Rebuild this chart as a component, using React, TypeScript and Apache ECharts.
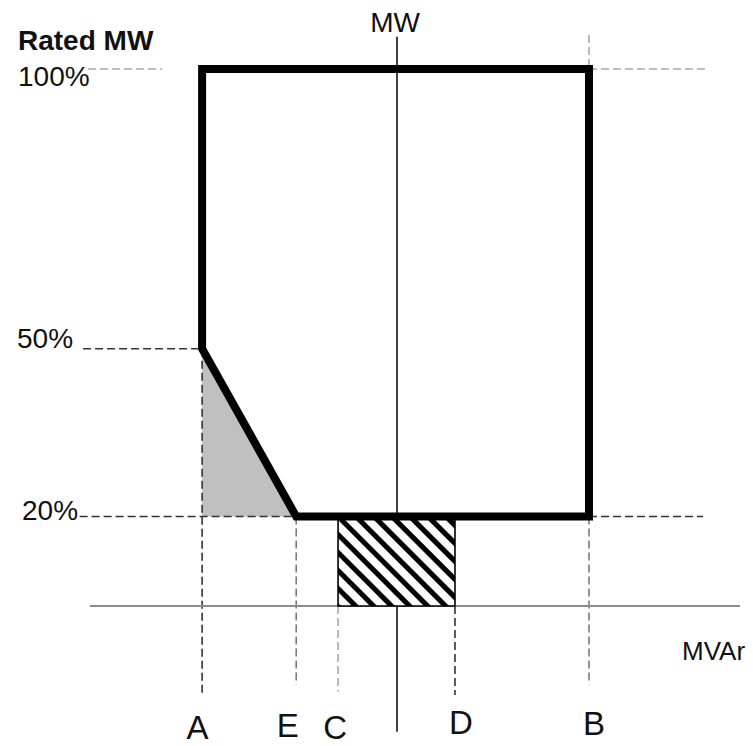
import React, { useEffect, useRef } from "react";
import * as echarts from "echarts";

const W = 753;
const H = 746;
const FONT = "'Liberation Sans', Arial, sans-serif";

// ---- data (schematic MVAr positions, MW axis = 0; MW in % of rated) ----
const pointLabels = ["A", "E", "C", "D", "B"];
const pointMvar = [-101.5, -52.5, -30.7, 30.2, 100];
const [A, E, C, D, B] = pointMvar;

const yTickLabels = ["100%", "50%", "20%"];
const yTickValues = [100, 50, 20];
const mvarAxisLevel = 4;

const capabilityOutline = [
  [A, 100],
  [B, 100],
  [B, 20],
  [E, 20],
  [A, 50],
];
const shadedRegion = [
  [A, 50],
  [A, 20],
  [E, 20],
];
const hatchedRegion = [
  [C, 20],
  [D, mvarAxisLevel],
];

// guide segments [x1, y1, x2, y2]
const darkGuides = [
  [-163.5, 50, A, 50],
  [-165.3, 20, E, 20],
  [B, 20, 159.4, 20],
  [A, 50, A, -11.7],
  [D, mvarAxisLevel, D, -11.9],
];
const midGuides = [
  [E, 20, E, -10.1],
  [B, 20, B, -10.1],
];
const lightGuides = [
  [-160.9, 100, -122.4, 100],
  [B, 100, 160.4, 100],
  [B, 106.1, B, 100],
  [C, mvarAxisLevel, C, -11.3],
];
const mwAxisLine = [[0, 105.75, 0, -18.5]];
const mvarAxisLine = [[-159.9, mvarAxisLevel, 178.6, mvarAxisLevel]];

// ---- layout ----
const X_MIN = -200;
const X_MAX = 185;
const PX_X = 1.92;
const ORIGIN_X = 397;
const Y_MIN = -20;
const Y_MAX = 110;
const PX_Y = 5.59375;
const Y100_PX = 69;
const gridLeft = ORIGIN_X + X_MIN * PX_X;
const gridWidth = (X_MAX - X_MIN) * PX_X;
const gridTop = Y100_PX - (Y_MAX - 100) * PX_Y;
const gridHeight = (Y_MAX - Y_MIN) * PX_Y;

const LETTER_Y = -17.8;
const LETTER_FONT = 33;
const LETTER_NUDGE = [
  [-4.5, -0.5],
  [-8.5, -2],
  [-3, -0.5],
  [6, -5],
  [5, -4],
];
const YLABEL_NUDGE = [
  [5, 7],
  [4, -10.5],
  [9, -6.5],
];

function clipPoly(poly: number[][], f: (p: number[]) => number) {
  const out: number[][] = [];
  const n = poly.length;
  for (let i = 0; i < n; i++) {
    const a = poly[i];
    const b = poly[(i + 1) % n];
    const fa = f(a);
    const fb = f(b);
    if (fa >= 0) out.push(a);
    if (fa >= 0 !== fb >= 0) {
      const t = fa / (fa - fb);
      out.push([a[0] + t * (b[0] - a[0]), a[1] + t * (b[1] - a[1])]);
    }
  }
  return out;
}

function guideSeries(segs: number[][], color: string, width: number, dash: number[] | null, z: number) {
  return {
    type: "custom",
    silent: true,
    z,
    data: segs,
    renderItem: (params: any, api: any) => {
      const p1 = api.coord([api.value(0), api.value(1)]);
      const p2 = api.coord([api.value(2), api.value(3)]);
      return {
        type: "line",
        shape: { x1: p1[0], y1: p1[1], x2: p2[0], y2: p2[1] },
        style: { stroke: color, lineWidth: width, lineDash: dash || undefined, fill: null },
      };
    },
  };
}

export default function App() {
  const ref = useRef<HTMLDivElement>(null);
  useEffect(() => {
    const chart = echarts.init(ref.current!, null, { renderer: "svg" });
    const option: any = {
      animation: false,
      backgroundColor: "#fff",
      grid: { left: gridLeft, top: gridTop, width: gridWidth, height: gridHeight },
      xAxis: { type: "value", min: X_MIN, max: X_MAX, show: false },
      yAxis: { type: "value", min: Y_MIN, max: Y_MAX, show: false },
      series: [
        {
          type: "custom",
          silent: true,
          z: 1,
          data: [[0, 0]],
          renderItem: (params: any, api: any) => ({
            type: "polygon",
            shape: { points: shadedRegion.map((p) => api.coord(p)) },
            style: { fill: "#c0c0c0", stroke: null },
          }),
        },
        guideSeries(lightGuides, "#a8a8a8", 1.6, [8, 4], 2),
        guideSeries(midGuides, "#7a7a7a", 1.6, [8, 4], 2),
        guideSeries(darkGuides, "#333333", 1.6, [8, 4], 2),
        guideSeries(mvarAxisLine, "#8c8c8c", 2, null, 3),
        guideSeries(mwAxisLine, "#111111", 1.6, null, 3),
        {
          type: "custom",
          silent: true,
          z: 4,
          data: [[0, 0]],
          renderItem: (params: any, api: any) => {
            const p0 = api.coord(hatchedRegion[0]);
            const p1 = api.coord(hatchedRegion[1]);
            const x0 = p0[0], y0 = p0[1], x1 = p1[0], y1 = p1[1];
            const rect = [
              [x0, y0],
              [x1, y0],
              [x1, y1],
              [x0, y1],
            ];
            const period = 18;
            const half = 3.6;
            const kMin = x0 - y1;
            const kMax = x1 - y0;
            const k0 = x0 - y0;
            const children: any[] = [
              { type: "rect", shape: { x: x0, y: y0, width: x1 - x0, height: y1 - y0 }, style: { fill: "#fff" } },
            ];
            let k = k0 - Math.ceil((k0 - kMin + half) / period) * period;
            for (; k <= kMax + half; k += period) {
              const kk = k;
              let poly = clipPoly(rect, (p) => p[0] - p[1] - (kk - half));
              poly = clipPoly(poly, (p) => kk + half - (p[0] - p[1]));
              if (poly.length >= 3) {
                children.push({ type: "polygon", shape: { points: poly }, style: { fill: "#000" } });
              }
            }
            children.push({
              type: "rect",
              shape: { x: x0, y: y0, width: x1 - x0, height: y1 - y0 },
              style: { fill: null, stroke: "#000", lineWidth: 1.6 },
            });
            return { type: "group", children };
          },
        },
        {
          type: "custom",
          silent: true,
          z: 5,
          data: [[0, 0]],
          renderItem: (params: any, api: any) => ({
            type: "polygon",
            shape: { points: capabilityOutline.map((p) => api.coord(p)) },
            style: { fill: null, stroke: "#000", lineWidth: 8, lineJoin: "miter", miterLimit: 10 },
          }),
        },
        {
          type: "custom",
          silent: true,
          z: 6,
          data: pointLabels.map((t, i) => [pointMvar[i], LETTER_Y]),
          renderItem: (params: any, api: any) => {
            const i = params.dataIndex;
            const p = api.coord([api.value(0), api.value(1)]);
            return {
              type: "text",
              x: p[0] + LETTER_NUDGE[i][0],
              y: p[1] + LETTER_NUDGE[i][1],
              style: {
                text: pointLabels[i],
                fontSize: LETTER_FONT,
                fontFamily: FONT,
                fill: "#111",
                align: "center",
                verticalAlign: "middle",
              },
            };
          },
        },
        {
          type: "custom",
          silent: true,
          z: 6,
          data: yTickValues.map((v) => [X_MIN, v]),
          renderItem: (params: any, api: any) => {
            const i = params.dataIndex;
            const p = api.coord([api.value(0), api.value(1)]);
            return {
              type: "text",
              x: p[0] + YLABEL_NUDGE[i][0],
              y: p[1] + YLABEL_NUDGE[i][1],
              style: {
                text: yTickLabels[i],
                fontSize: 28,
                fontFamily: FONT,
                fill: "#111",
                align: "left",
                verticalAlign: "middle",
              },
            };
          },
        },
      ],
      graphic: [
        {
          type: "text",
          x: 18,
          y: 40,
          style: {
            text: "Rated MW",
            fontSize: 28,
            fontWeight: "bold",
            fontFamily: FONT,
            fill: "#111",
            align: "left",
            verticalAlign: "middle",
          },
        },
        {
          type: "text",
          x: 395,
          y: 22.5,
          style: { text: "MW", fontSize: 28, fontFamily: FONT, fill: "#111", align: "center", verticalAlign: "middle" },
        },
        {
          type: "text",
          x: 682,
          y: 651,
          style: { text: "MVAr", fontSize: 26, fontFamily: FONT, fill: "#111", align: "left", verticalAlign: "middle" },
        },
      ],
    };
    chart.setOption(option);
    return () => chart.dispose();
  }, []);
  return (
    <div
      ref={ref}
      style={{ position: "absolute", left: 0, top: 0, width: W, height: H, background: "#fff" }}
    />
  );
}
